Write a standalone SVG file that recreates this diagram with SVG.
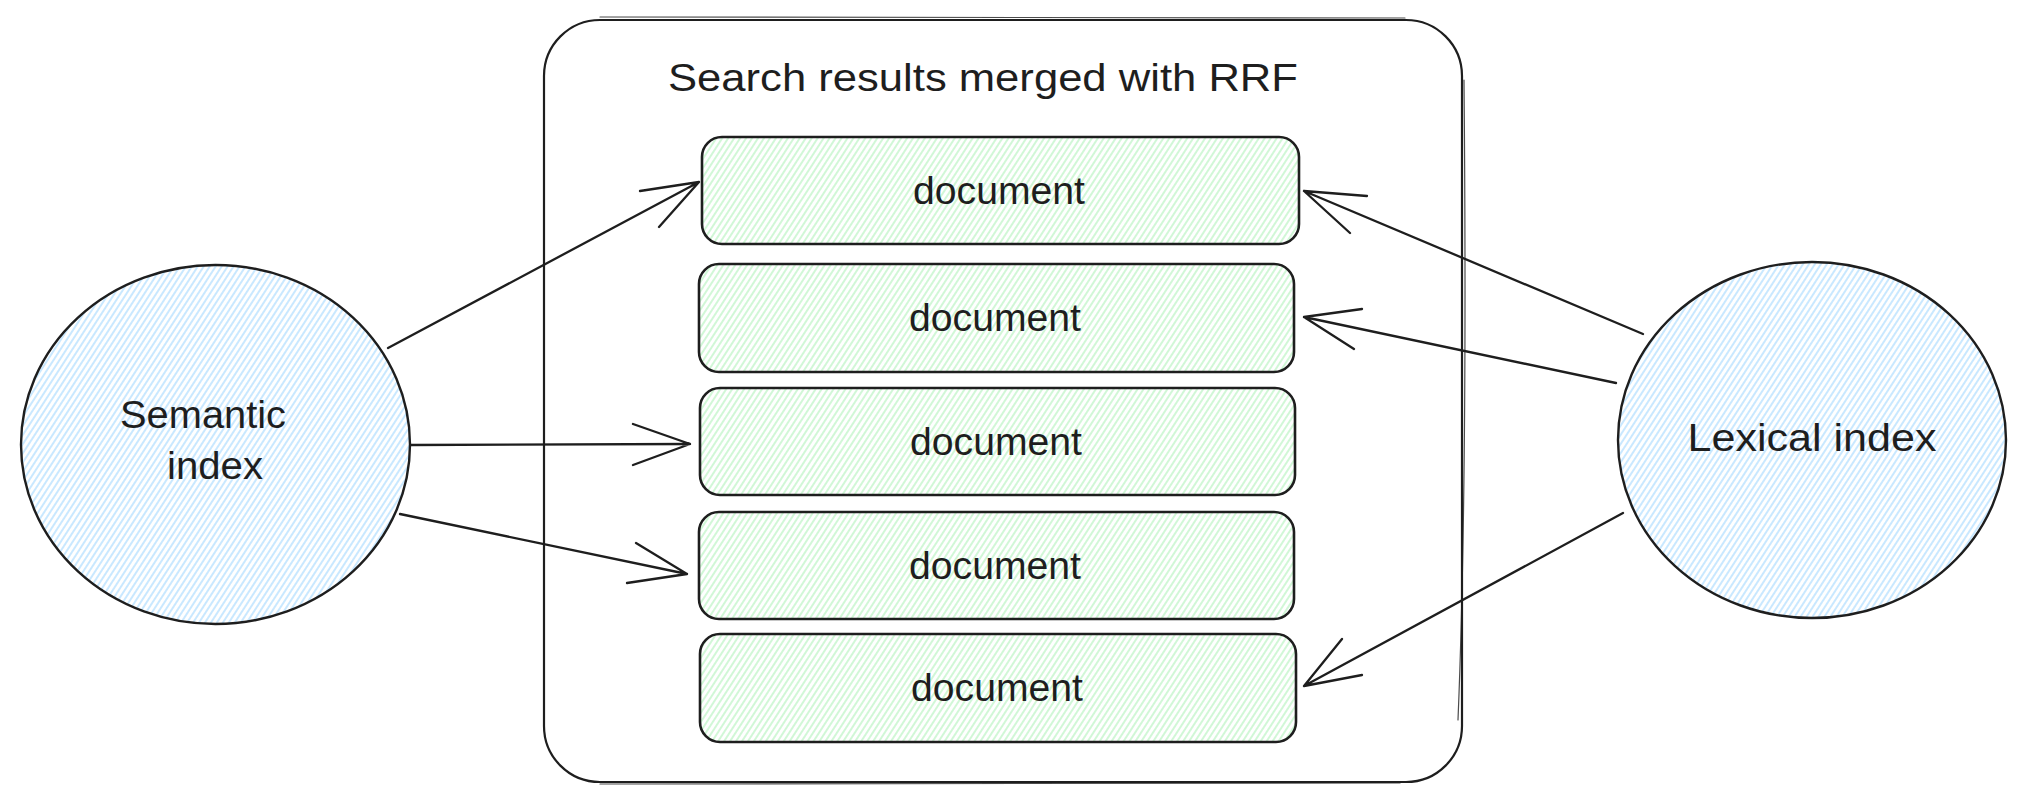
<svg xmlns="http://www.w3.org/2000/svg" width="2026" height="802" viewBox="0 0 2026 802">
  <defs>
    <pattern id="hatchBlue" patternUnits="userSpaceOnUse" width="5" height="10" patternTransform="rotate(33)">
      <line x1="1" y1="0" x2="1" y2="10" stroke="#a5d8ff" stroke-width="1.2"/>
    </pattern>
    <pattern id="hatchGreen" patternUnits="userSpaceOnUse" width="5" height="10" patternTransform="rotate(33)">
      <line x1="1" y1="0" x2="1" y2="10" stroke="#b2f2bb" stroke-width="1.2"/>
    </pattern>
  </defs>
  <style>
    .stroke { fill: none; stroke: #1e1e1e; stroke-width: 2.2; stroke-linecap: round; stroke-linejoin: round; }
    .stroke2 { fill: none; stroke: #1e1e1e; stroke-width: 1.2; stroke-linecap: round; stroke-linejoin: round; opacity: 0.8; }
    .doc { fill: url(#hatchGreen); stroke: #1e1e1e; stroke-width: 2.6; }
    .idx { fill: url(#hatchBlue); stroke: #1e1e1e; stroke-width: 2.4; }
    .label { font-family: "Liberation Sans", "DejaVu Sans", sans-serif; font-size: 38px; fill: #1e1e1e; text-anchor: middle; }
    .arrow { fill: none; stroke: #1e1e1e; stroke-width: 2.3; stroke-linecap: round; stroke-linejoin: round; }
  </style>
  <rect width="2026" height="802" fill="#ffffff"/>

  <g id="container">
    <rect class="stroke" x="544" y="20" width="918" height="762" rx="56" ry="56"/>
    <path class="stroke2" d="M600 17 C900 15 1200 16 1405 18 M1464 80 C1466 300 1465 550 1458 720 M600 784 C900 786 1200 785 1400 783"/>
    <text class="label" x="983" y="91" textLength="630" lengthAdjust="spacingAndGlyphs">Search results merged with RRF</text>
  </g>

  <g id="doc1">
    <rect class="doc" x="702" y="137" width="597" height="107" rx="20" ry="20"/>
    <text class="label" x="999" y="204" textLength="172" lengthAdjust="spacingAndGlyphs">document</text>
  </g>
  <g id="doc2">
    <rect class="doc" x="699" y="264" width="595" height="108" rx="20" ry="20"/>
    <text class="label" x="995" y="331" textLength="172" lengthAdjust="spacingAndGlyphs">document</text>
  </g>
  <g id="doc3">
    <rect class="doc" x="700" y="388" width="595" height="107" rx="20" ry="20"/>
    <text class="label" x="996" y="455" textLength="172" lengthAdjust="spacingAndGlyphs">document</text>
  </g>
  <g id="doc4">
    <rect class="doc" x="699" y="512" width="595" height="107" rx="20" ry="20"/>
    <text class="label" x="995" y="579" textLength="172" lengthAdjust="spacingAndGlyphs">document</text>
  </g>
  <g id="doc5">
    <rect class="doc" x="700" y="634" width="596" height="108" rx="20" ry="20"/>
    <text class="label" x="997" y="701" textLength="172" lengthAdjust="spacingAndGlyphs">document</text>
  </g>

  <g id="semantic-index">
    <ellipse class="idx" cx="215.5" cy="444.5" rx="194.5" ry="179.5"/>
    <text class="label" x="203" y="428" textLength="166" lengthAdjust="spacingAndGlyphs">Semantic</text>
    <text class="label" x="215" y="479" textLength="96" lengthAdjust="spacingAndGlyphs">index</text>
  </g>

  <g id="lexical-index">
    <ellipse class="idx" cx="1812" cy="440" rx="194" ry="178"/>
    <text class="label" x="1812" y="451" textLength="249" lengthAdjust="spacingAndGlyphs">Lexical index</text>
  </g>

  <g id="connectors">
    <path class="arrow" d="M388 348 L699 182 M640 191 L699 182 L659 227"/>
    <path class="arrow" d="M411 445 L690 444 M633 424 L690 444 L633 465"/>
    <path class="arrow" d="M400 514 L687 574 M636 543 L687 574 L627 583"/>
    <path class="arrow" d="M1643 334 L1304 191 M1367 196 L1304 191 L1350 233"/>
    <path class="arrow" d="M1616 383 L1304 317 M1362 309 L1304 317 L1354 349"/>
    <path class="arrow" d="M1623 513 L1304 686 M1342 639 L1304 686 L1362 675"/>
  </g>
</svg>
